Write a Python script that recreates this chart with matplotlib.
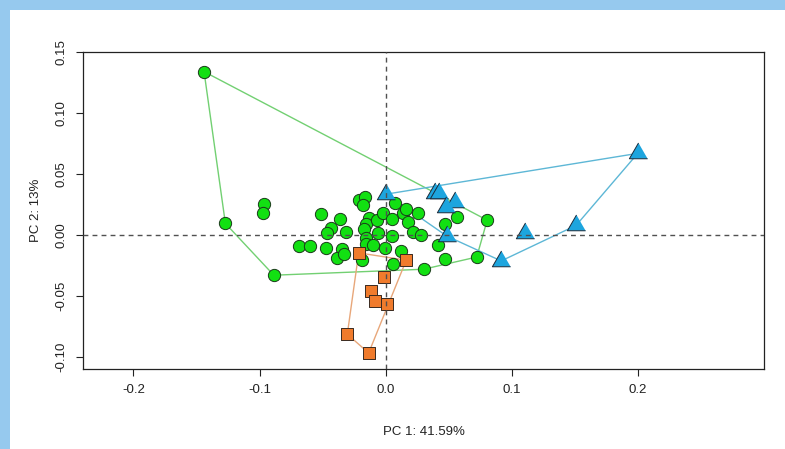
import numpy as np
import matplotlib
matplotlib.use("Agg")
import matplotlib.pyplot as plt
from matplotlib.patches import Rectangle

plt.rcParams['font.family'] = ['Liberation Sans', 'DejaVu Sans']

# PCA scores
green_x = [-0.1440, -0.1271, -0.0887, -0.0967, -0.0975, -0.0515, -0.0362, -0.0433,
           -0.0468, -0.0317, -0.0685, -0.0598, -0.0473, -0.0346, -0.0386, -0.0330,
           -0.0209, -0.0166, -0.0176, -0.0136, -0.0158, -0.0168, -0.0154, -0.0152,
           -0.0101, -0.0189, -0.0067, -0.0025, 0.0054, -0.0061, 0.0050, -0.0002,
           0.0071, 0.0139, 0.0165, 0.0177, 0.0254, 0.0216, 0.0277, 0.0123,
           0.0059, 0.0301, 0.0418, 0.0470, 0.0567, 0.0470, 0.0722, 0.0805]
green_y = [0.1339, 0.0096, -0.0328, 0.0252, 0.0180, 0.0175, 0.0131, 0.0057,
           0.0018, 0.0025, -0.0090, -0.0088, -0.0104, -0.0111, -0.0184, -0.0153,
           0.0287, 0.0309, 0.0244, 0.0139, 0.0093, 0.0049, -0.0020, -0.0070,
           -0.0082, -0.0207, 0.0123, 0.0178, 0.0130, 0.0016, -0.0008, -0.0107,
           0.0266, 0.0178, 0.0216, 0.0107, 0.0183, 0.0022, 0.0002, -0.0127,
           -0.0238, -0.0279, -0.0084, 0.0093, 0.0146, -0.0195, -0.0179, 0.0123]

blue_x = [0.0005, 0.0388, 0.0422, 0.0547, 0.0480, 0.0486, 0.1101, 0.0916, 0.1510, 0.1999]
blue_y = [0.0336, 0.0342, 0.0347, 0.0273, 0.0232, -0.0008, 0.0019, -0.0211, 0.0080, 0.0670]

orange_x = [-0.0214, 0.0163, -0.0016, -0.0114, -0.0087, 0.0013, -0.0304, -0.0135]
orange_y = [-0.0145, -0.0205, -0.0342, -0.0459, -0.0541, -0.0566, -0.0811, -0.0965]

x_ticks = [-0.2, -0.1, 0.0, 0.1, 0.2]
y_ticks = [-0.10, -0.05, 0.00, 0.05, 0.10, 0.15]


def hull(xs, ys):
    # monotone chain convex hull, returned closed
    pts = sorted(set(zip(xs, ys)))

    def cross(o, a, b):
        return (a[0] - o[0]) * (b[1] - o[1]) - (a[1] - o[1]) * (b[0] - o[0])

    lower, upper = [], []
    for p in pts:
        while len(lower) >= 2 and cross(lower[-2], lower[-1], p) <= 0:
            lower.pop()
        lower.append(p)
    for p in reversed(pts):
        while len(upper) >= 2 and cross(upper[-2], upper[-1], p) <= 0:
            upper.pop()
        upper.append(p)
    h = lower[:-1] + upper[:-1]
    h.append(h[0])
    return [p[0] for p in h], [p[1] for p in h]


fig = plt.figure(figsize=(7.85, 4.49), dpi=100)
ax = fig.add_axes([83 / 785, 80 / 449, 681 / 785, 317 / 449])

# hulls under the points
for xs, ys, c in [(green_x, green_y, '#72D072'),
                  (blue_x, blue_y, '#5DB7D6'),
                  (orange_x, orange_y, '#E8A77A')]:
    hx, hy = hull(xs, ys)
    ax.plot(hx, hy, color=c, lw=1.0, zorder=2)

tri = [(0, 1), (-0.866, -0.5), (0.866, -0.5)]
ax.scatter(green_x, green_y, s=78, marker='o', facecolor='#12E012',
           edgecolor='#1a3a1a', linewidth=0.7, zorder=3)
ax.scatter(orange_x, orange_y, s=66, marker='s', facecolor='#F07B2C',
           edgecolor='#3a2a20', linewidth=0.7, zorder=3)
ax.scatter(blue_x, blue_y, s=230, marker=tri, facecolor='#1DA5DE',
           edgecolor='#1a2a3a', linewidth=0.7, zorder=3)

ax.axhline(0, color='#505050', lw=1.0, ls=(0, (3.5, 3)), zorder=4)
ax.axvline(0, color='#505050', lw=1.0, ls=(0, (3.5, 3)), zorder=4)

ax.set_xlim(-0.24, 0.30)
ax.set_ylim(-0.1096, 0.1496)
ax.set_xticks(x_ticks)
ax.set_xticklabels(['%.1f' % v for v in x_ticks])
ax.set_yticks(y_ticks)
ax.set_yticklabels(['%.2f' % v for v in y_ticks])
ax.tick_params(direction='out', length=5, width=0.8, labelsize=9.5,
               colors='#222222', pad=6)
plt.setp(ax.get_yticklabels(), rotation=90, va='center')
for s in ax.spines.values():
    s.set_linewidth(0.9)
    s.set_color('#222222')

ax.set_xlabel('PC 1: 41.59%', fontsize=9.5, color='#222222')
ax.set_ylabel('PC 2: 13%', fontsize=9.5, color='#222222')
ax.xaxis.set_label_coords(0.5, -0.18)
ax.yaxis.set_label_coords(-0.06, 0.5)

# light blue frame along top and left edge
fig.patches.append(Rectangle((0, 1 - 10 / 449), 1, 10 / 449, transform=fig.transFigure,
                             facecolor='#96C9EE', edgecolor='none', zorder=0))
fig.patches.append(Rectangle((0, 0), 10 / 785, 1, transform=fig.transFigure,
                             facecolor='#96C9EE', edgecolor='none', zorder=0))

fig.savefig('out.png', dpi=100)
